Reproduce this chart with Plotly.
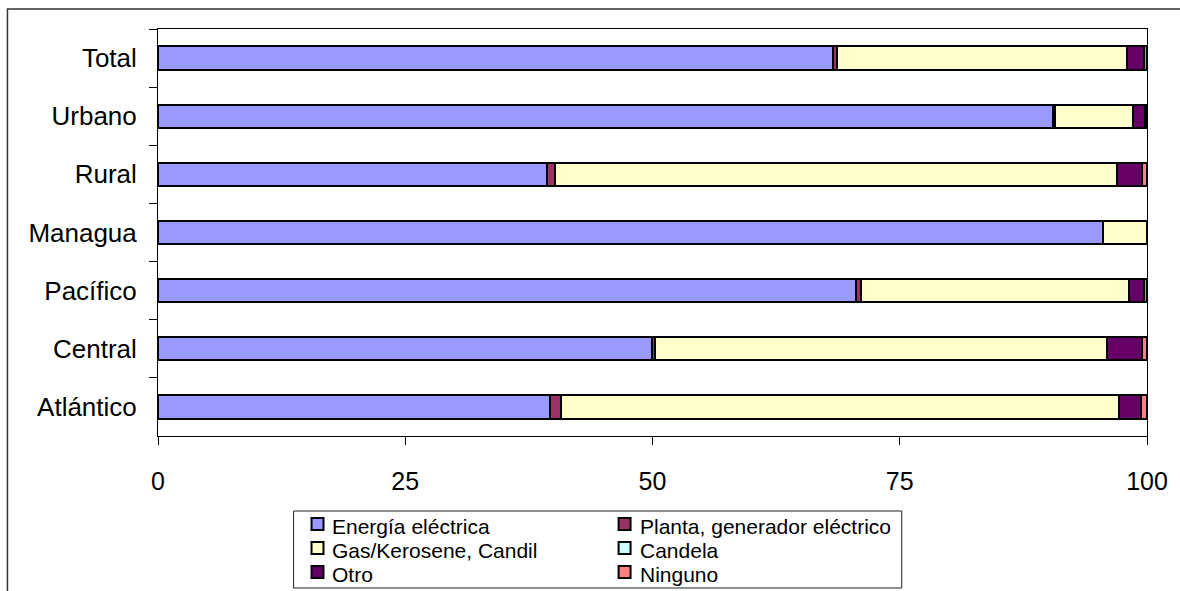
import plotly.graph_objects as go

# Regions (top to bottom)
categories = ["Total", "Urbano", "Rural", "Managua", "Pacífico", "Central", "Atlántico"]

# Share of households by lighting source (%)
energia = [68.3, 90.5, 39.3, 95.5, 70.6, 49.9, 39.6]
planta = [0.4, 0.2, 0.8, 0.0, 0.5, 0.4, 1.1]
gas = [29.3, 7.9, 56.9, 4.5, 27.1, 45.7, 56.5]
candela = [0.0, 0.0, 0.0, 0.0, 0.0, 0.0, 0.0]
otro = [1.7, 1.2, 2.5, 0.0, 1.5, 3.5, 2.2]
ninguno = [0.3, 0.2, 0.5, 0.0, 0.3, 0.5, 0.6]

series_names = ["Energía eléctrica", "Planta, generador eléctrico", "Gas/Kerosene, Candil",
                "Candela", "Otro", "Ninguno"]
series_values = [energia, planta, gas, candela, otro, ninguno]
series_colors = ["#9999FF", "#993366", "#FFFFCC", "#CCFFFF", "#660066", "#FF8080"]

x_ticks = [0, 25, 50, 75, 100]

FONT = "Liberation Sans, Arial, sans-serif"
W, H = 1180, 591
ML, MR, MT, MB = 158, 30, 29, 155
PW, PH = W - ML - MR, H - MT - MB


def px_x(px):
    return (px - ML) / PW


def px_y(py):
    return (H - MB - py) / PH


fig = go.Figure()
for name, vals, col in zip(series_names, series_values, series_colors):
    fig.add_trace(go.Bar(
        y=categories, x=vals, name=name, orientation="h",
        marker=dict(color=col, line=dict(color="black", width=2)),
        showlegend=False,
    ))

shapes = []
annotations = []

# outer chart frame (left and top edges visible)
shapes.append(dict(type="rect", xref="paper", yref="paper",
                   x0=px_x(7), x1=px_x(1200), y0=px_y(620), y1=px_y(9),
                   line=dict(color="#333333", width=1.5), fillcolor="rgba(0,0,0,0)",
                   layer="below"))

# legend box with two columns of entries
shapes.append(dict(type="rect", xref="paper", yref="paper",
                   x0=px_x(294), x1=px_x(904), y0=px_y(588), y1=px_y(511),
                   line=dict(color="#222222", width=1), fillcolor="white", layer="below"))

col_x = [318, 626]
row_y = [524, 548, 572]
for i, (name, col) in enumerate(zip(series_names, series_colors)):
    cx = col_x[i % 2]
    cy = row_y[i // 2]
    shapes.append(dict(type="rect", xref="paper", yref="paper",
                       x0=px_x(cx - 6), x1=px_x(cx + 6), y0=px_y(cy + 6), y1=px_y(cy - 6),
                       line=dict(color="black", width=2), fillcolor=col))
    annotations.append(dict(text=name, xref="paper", yref="paper",
                            x=px_x(cx + 13), y=px_y(cy + 2), xanchor="left", yanchor="middle",
                            showarrow=False, font=dict(family=FONT, size=21, color="black")))

fig.update_layout(
    width=W, height=H,
    margin=dict(l=ML, r=MR, t=MT, b=MB, pad=0),
    paper_bgcolor="white", plot_bgcolor="white",
    barmode="stack", bargap=0.6,
    font=dict(family=FONT, size=25, color="black"),
    shapes=shapes, annotations=annotations,
    showlegend=False,
)
fig.update_xaxes(
    range=[0, 100], tickvals=x_ticks, ticktext=[str(t) for t in x_ticks],
    showgrid=False, zeroline=False,
    showline=True, linecolor="black", linewidth=1, mirror=True,
    ticks="outside", ticklen=8, tickcolor="black", tickwidth=1,
    ticklabelstandoff=15,
    tickfont=dict(family=FONT, size=25, color="black"),
)
fig.update_yaxes(
    categoryorder="array", categoryarray=categories, autorange="reversed",
    showgrid=False, zeroline=False,
    showline=True, linecolor="black", linewidth=1, mirror=True,
    ticks="outside", ticklen=8, tickcolor="black", tickwidth=1, tickson="boundaries",
    ticklabelstandoff=15,
    tickfont=dict(family=FONT, size=26, color="black"),
)

fig.write_html("out.html")
